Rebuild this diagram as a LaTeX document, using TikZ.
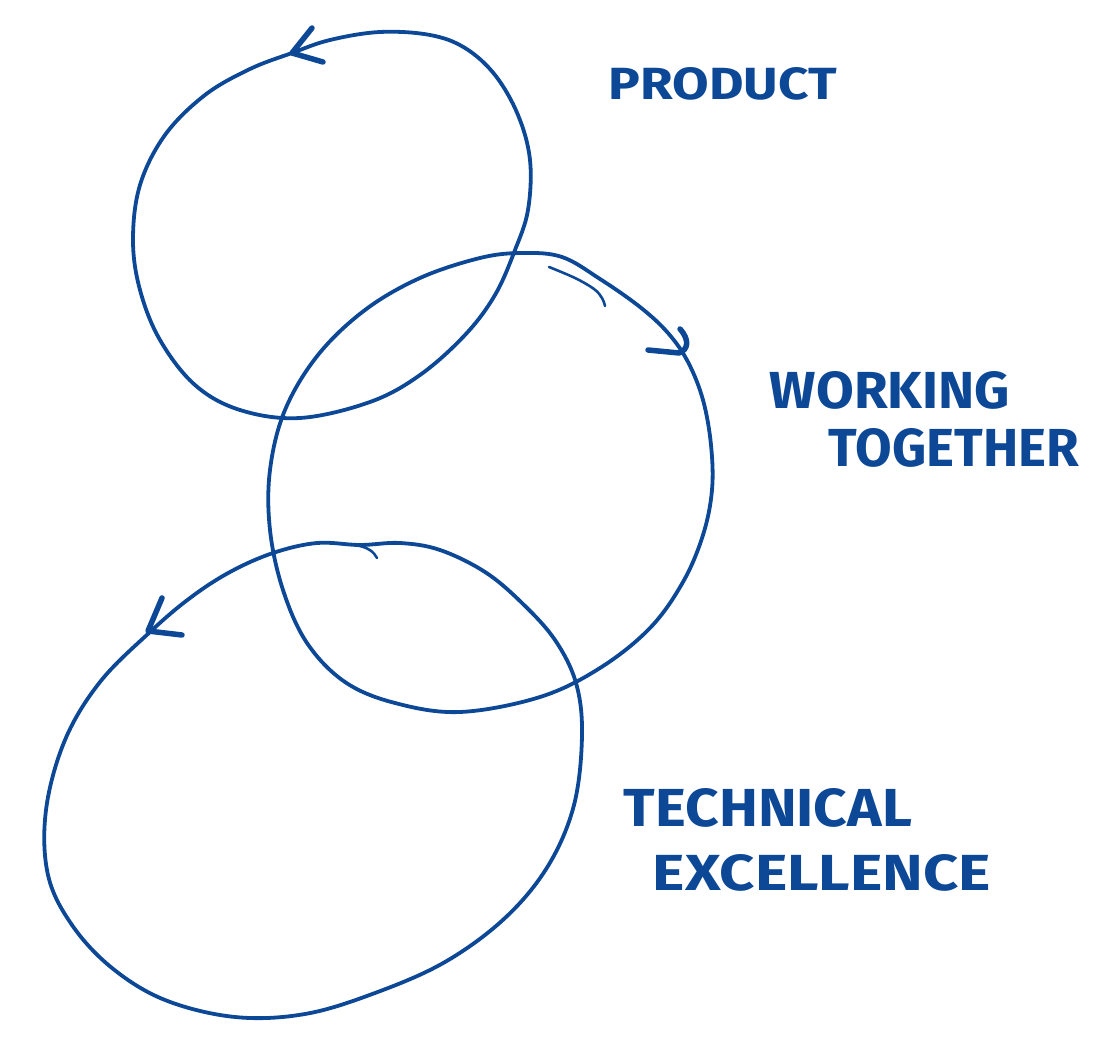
\documentclass[tikz,border=0pt]{standalone}
\usepackage{fontspec}
\setmainfont{Fira Sans}
\usepackage{graphicx}
\definecolor{ink}{HTML}{0C4896}
\begin{document}
\begin{tikzpicture}[x=1pt,y=-1pt,
  loopline/.style={draw=ink, line width=3.8pt, line cap=round, line join=round},
  thinline/.style={loopline, line width=2.6pt},
  tipstroke/.style={loopline, line width=5.5pt},
  handtext/.style={text=ink, inner sep=0pt, font=\bfseries}]
\useasboundingbox (0,0) rectangle (1104,1040);

% top loop (Product)
\draw[loopline] plot[smooth cycle, tension=0.6] coordinates {(292,53) (330,40) (380,32) (430,35) (465,48) (495,75) (518,115) (530,160) (528,210) (515,250) (495,295) (465,335) (420,375) (370,402) (300,418) (240,410) (195,385) (160,340) (140,290) (133,240) (140,185) (165,135) (205,95) (250,69)};
\draw[tipstroke] (312,28) -- (292,53) -- (323,62);

% middle loop (Working together)
\draw[loopline] plot[smooth cycle, tension=0.6] coordinates {(480,258) (522,253) (562,257) (600,279) (640,307) (668,333) (688,362) (703,400) (711,445) (712,490) (703,535) (683,582) (650,628) (600,668) (540,697) (460,712) (395,703) (345,682) (307,643) (283,590) (270,530) (270,470) (285,410) (318,355) (365,310) (420,278)};
\draw[thinline] plot[smooth, tension=0.6] coordinates {(549,267) (575,278) (594,289) (602,298) (605,306)};
\draw[tipstroke] (680,329) .. controls (690,340) and (688,350) .. (679,353) -- (648,350);

% bottom loop (Technical excellence)
\draw[loopline] plot[smooth cycle, tension=0.6] coordinates {(360,545) (317,543) (273,553) (230,572) (190,598) (150,632) (100,682) (65,740) (46,810) (48,875) (72,925) (112,968) (165,1000) (235,1017) (305,1014) (375,993) (445,962) (505,918) (548,866) (574,805) (582,735) (576,683) (555,640) (522,603) (485,572) (440,550) (400,543)};
\draw[thinline] (355,545) .. controls (368,547) and (374,552) .. (377,558);
\draw[tipstroke] (162,598) -- (148,631) -- (182,635);

% labels
\node[handtext] (product) at (723,84) {\resizebox{228pt}{32pt}{PRODUCT}};
\node[handtext] (working) at (890,390) {\resizebox{240pt}{37pt}{WORKING}};
\node[handtext] (together) at (954,448) {\resizebox{250pt}{38pt}{TOGETHER}};
\node[handtext] (technical) at (768,808) {\resizebox{288pt}{38pt}{TECHNICAL}};
\node[handtext] (excellence) at (822,873) {\resizebox{338pt}{36pt}{EXCELLENCE}};
\end{tikzpicture}
\end{document}
